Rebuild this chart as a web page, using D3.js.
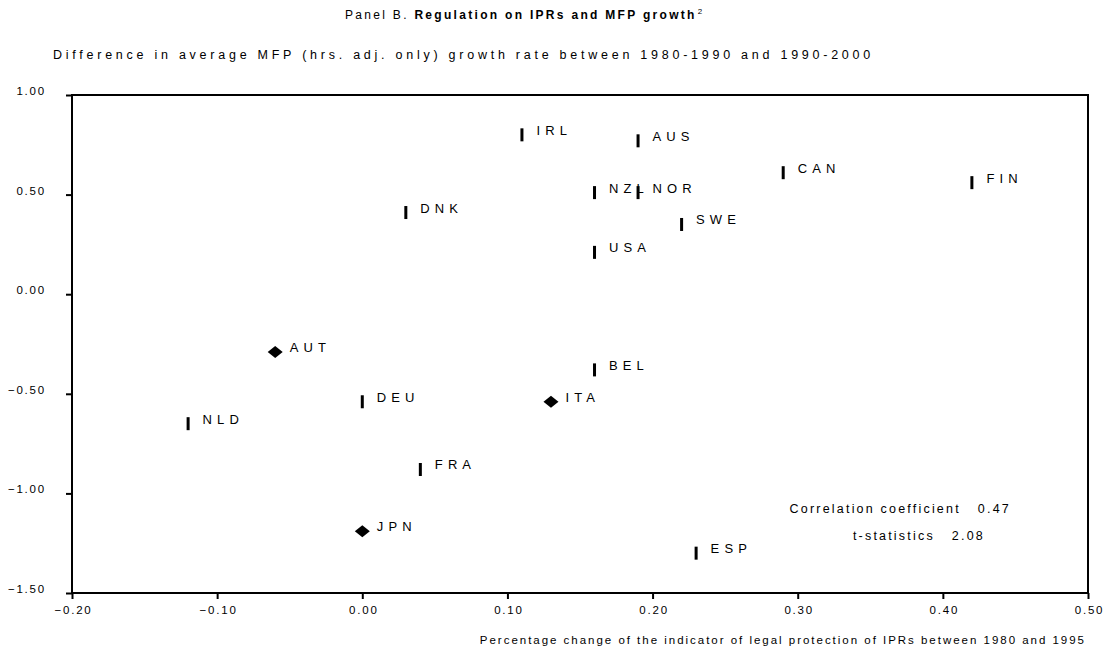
<!DOCTYPE html>
<html>
<head>
<meta charset="utf-8">
<script src="https://cdn.jsdelivr.net/npm/d3@7"></script>
<style>
  body { margin: 0; background: #fff; }
  text { font-family: "Liberation Sans", Arial, sans-serif; fill: #000; }
</style>
</head>
<body>
<div id="chart"></div>
<script>
// Countries, x = % change of IPR protection indicator, y = MFP growth difference
var countries = ["IRL", "AUS", "CAN", "FIN", "NZL", "NOR", "DNK", "SWE", "USA",
                 "AUT", "BEL", "DEU", "ITA", "NLD", "FRA", "JPN", "ESP"];
var xValues = [0.11, 0.19, 0.29, 0.42, 0.16, 0.19, 0.03, 0.22, 0.16,
               -0.06, 0.16, 0.00, 0.13, -0.12, 0.04, 0.00, 0.23];
var yValues = [0.80, 0.77, 0.61, 0.56, 0.51, 0.51, 0.41, 0.35, 0.21,
               -0.29, -0.38, -0.54, -0.54, -0.65, -0.88, -1.19, -1.30];
// marker shape: "bar" or "diamond"
var shapes = ["bar", "bar", "bar", "bar", "bar", "bar", "bar", "bar", "bar",
              "diamond", "bar", "bar", "diamond", "bar", "bar", "diamond", "bar"];
var xTicks = [-0.2, -0.1, 0, 0.1, 0.2, 0.3, 0.4, 0.5];
var yTicks = [1.0, 0.5, 0.0, -0.5, -1.0, -1.5];
var statsLabels = ["Correlation coefficient", "t-statistics"];
var statsValues = ["0.47", "2.08"];

var W = 1115, H = 650;
var margin = {top: 95, right: 27, bottom: 57, left: 72},
    width = W - margin.left - margin.right,
    height = H - margin.top - margin.bottom;

var data = countries.map(function (c, i) {
  return {name: c, x: xValues[i], y: yValues[i], shape: shapes[i]};
});

var svg = d3.select("#chart").append("svg")
    .attr("width", W).attr("height", H);

var g = svg.append("g")
    .attr("transform", "translate(" + margin.left + "," + margin.top + ")");

var xScale = d3.scaleLinear().domain([-0.2, 0.5]).range([0, width]),
    yScale = d3.scaleLinear().domain([-1.5, 1.0]).range([height, 0]);

// Titles
svg.append("text")
    .attr("x", 345).attr("y", 19)
    .style("font-size", "12px")
    .style("letter-spacing", "2.3px")
    .html('Panel B. <tspan font-weight="bold">Regulation on IPRs and MFP growth</tspan>' +
          '<tspan font-size="8px" dy="-5" dx="1">2</tspan>');

svg.append("text")
    .attr("x", 53).attr("y", 59)
    .style("font-size", "12.5px")
    .style("letter-spacing", "3.75px")
    .text("Difference in average MFP (hrs. adj. only) growth rate between 1980-1990 and 1990-2000");

// Axes
var xAxis = d3.axisBottom(xScale).tickValues(xTicks).tickSize(6).tickPadding(6)
    .tickFormat(d3.format(".2f"));
var yAxis = d3.axisLeft(yScale).tickValues(yTicks).tickSize(6).tickPadding(20)
    .tickFormat(d3.format(".2f"));

var gx = g.append("g").attr("transform", "translate(0," + height + ")").call(xAxis);
var gy = g.append("g").call(yAxis);

[gx, gy].forEach(function (a) {
  a.select(".domain").remove();
  a.selectAll("line").attr("stroke", "#000").attr("stroke-width", 2);
  a.selectAll("text")
      .style("font-size", "11.5px")
      .style("letter-spacing", "1.8px")
      .style("font-family", "'Liberation Sans', Arial, sans-serif")
      .attr("fill", "#000");
});
gx.selectAll("text").attr("dy", "0.8em").attr("dx", "1px");
gy.selectAll("text").attr("dy", "-0.05em");

// Plot frame
g.append("rect")
    .attr("x", 0).attr("y", 0)
    .attr("width", width).attr("height", height)
    .attr("fill", "none").attr("stroke", "#000").attr("stroke-width", 2);

// x axis title
svg.append("text")
    .attr("x", 1086).attr("y", 644)
    .style("text-anchor", "end")
    .style("font-size", "11.5px")
    .style("letter-spacing", "1.98px")
    .text("Percentage change of the indicator of legal protection of IPRs between 1980 and 1995");

// Markers
var pts = g.selectAll(".pt").data(data).enter().append("g")
    .attr("class", "pt")
    .attr("transform", function (d) {
      return "translate(" + xScale(d.x) + "," + yScale(d.y) + ")";
    });

pts.filter(function (d) { return d.shape === "bar"; })
  .append("rect")
    .attr("x", -1.5).attr("y", -6.5)
    .attr("width", 3).attr("height", 13)
    .attr("fill", "#000");

pts.filter(function (d) { return d.shape === "diamond"; })
  .append("path")
    .attr("d", "M0,-6L7.5,0L0,6L-7.5,0Z")
    .attr("fill", "#000");

pts.append("text")
    .attr("x", 14.5).attr("y", 0)
    .style("font-size", "13px")
    .style("letter-spacing", "5.1px")
    .text(function (d) { return d.name; });

// Statistics note
svg.selectAll(".stat").data(statsLabels).enter().append("text")
    .attr("class", "stat")
    .attr("x", function (d, i) { return i === 0 ? 1011 : 985; })
    .attr("y", function (d, i) { return 513 + i * 27; })
    .style("text-anchor", "end")
    .style("font-size", "12.5px")
    .style("letter-spacing", "2.2px")
    .style("white-space", "pre")
    .text(function (d, i) { return d + "   " + statsValues[i]; });
</script>
</body>
</html>
